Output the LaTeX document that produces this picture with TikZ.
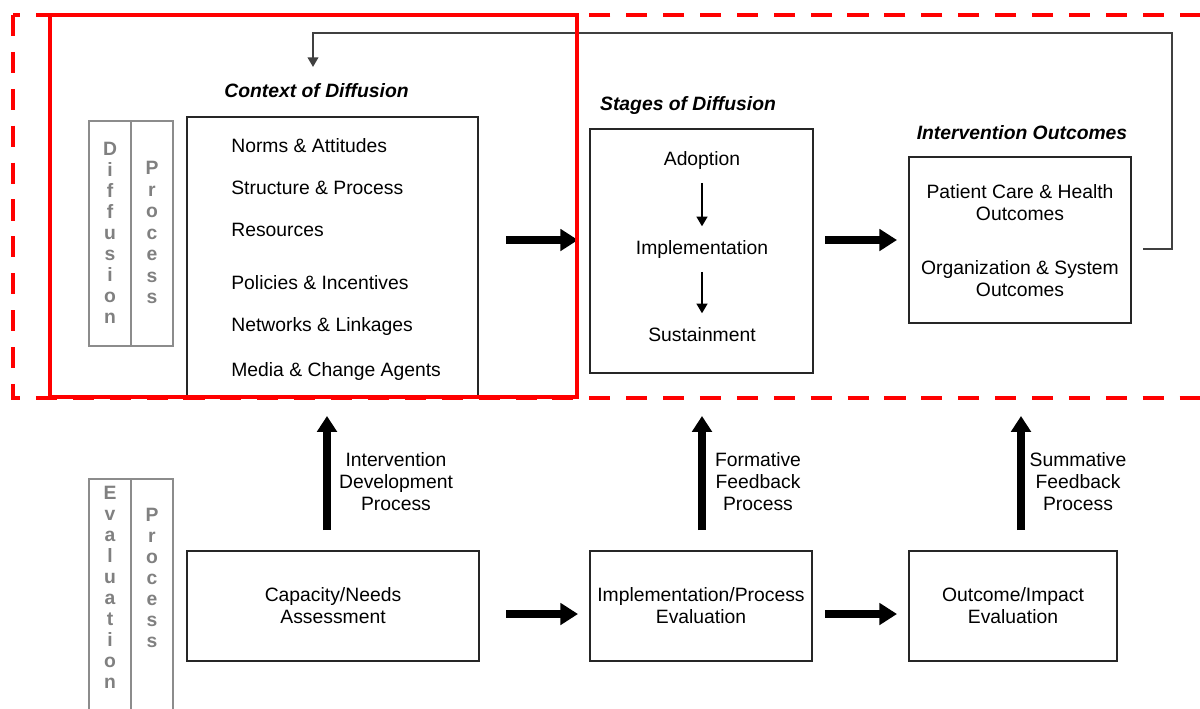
\documentclass[tikz,border=0pt]{standalone}
\usepackage{fontspec}
\setmainfont{Liberation Sans}
\usetikzlibrary{arrows.meta}

\begin{document}
\begin{tikzpicture}[x=0.02cm, y=-0.02cm,
	font=\fontsize{11pt}{12.5pt}\selectfont,
	box/.style={draw=black!85, line width=1pt, inner sep=0pt},
	sidebox/.style={draw=black!45, line width=0.7pt, minimum width=0.84cm},
	letter/.style={text=black!50, font=\fontsize{11pt}{12.5pt}\selectfont\bfseries, inner sep=0pt, text height=8pt, text depth=0pt},
	heading/.style={font=\fontsize{11pt}{12.5pt}\selectfont\bfseries\itshape, inner sep=0pt},
	entry/.style={anchor=west, inner sep=0pt, text height=8pt, text depth=2.5pt},
	stage/.style={inner sep=0pt, text height=8pt, text depth=2.5pt},
	proclabel/.style={align=center, inner sep=0pt},
	bigarrow/.style={line width=5pt, -{Triangle[length=10pt,width=12pt]}},
	uparrow/.style={line width=4pt, -{Triangle[length=9pt,width=11pt]}},
	smallarrow/.style={line width=1.5pt, -{Triangle[length=5.5pt,width=6pt]}},
	fbarrow/.style={draw=black!75, line width=1.2pt, -{Triangle[length=5.5pt,width=6pt]}},
	redline/.style={draw=red, line width=2.3pt}]
	\useasboundingbox (0, 0) rectangle (1200, 708);

	\node[box, minimum width=5.82cm, minimum height=5.6cm] (context) at (332.5, 257) {};
	\node[box, minimum width=4.46cm, minimum height=4.88cm] (stages) at (701.5, 251) {};
	\node[box, minimum width=4.44cm, minimum height=3.32cm] (outcomes) at (1020, 240) {};
	\node[box, minimum width=5.84cm, minimum height=2.2cm, align=center] (capacity) at (333, 606) {Capacity/Needs\\Assessment};
	\node[box, minimum width=4.44cm, minimum height=2.2cm, align=center] (impleval) at (701, 606) {Implementation/Process\\Evaluation};
	\node[box, minimum width=4.16cm, minimum height=2.2cm, align=center] (outeval) at (1013, 606) {Outcome/Impact\\Evaluation};

	\node[sidebox, minimum height=4.5cm] (diffcol) at (110, 233.5) {};
	\node[sidebox, minimum height=4.5cm] (dproccol) at (152, 233.5) {};
	\node[sidebox, minimum height=5.2cm] (evalcol) at (110, 609) {};
	\node[sidebox, minimum height=5.2cm] (eproccol) at (152, 609) {};
	\foreach \ch [count=\i] in {D,i,f,f,u,s,i,o,n}
		\node[letter] (dl\i) at (110, 127+21*\i) {\ch};
	\foreach \ch [count=\i] in {P,r,o,c,e,s,s}
		\node[letter] (dp\i) at (152, 146+21.5*\i) {\ch};
	\foreach \ch [count=\i] in {E,v,a,l,u,a,t,i,o,n}
		\node[letter] (el\i) at (110, 471+21*\i) {\ch};
	\foreach \ch [count=\i] in {P,r,o,c,e,s,s}
		\node[letter] (ep\i) at (152, 493+21*\i) {\ch};

	\node[heading] (ctxtitle) at (316.5, 91) {Context of Diffusion};
	\node[heading] (stagetitle) at (688, 105) {Stages of Diffusion};
	\node[heading] (outtitle) at (1022, 133) {Intervention Outcomes};

	\node[entry] (norms) at (231, 148) {Norms \& Attitudes};
	\node[entry] (structure) at (231, 190) {Structure \& Process};
	\node[entry] (resources) at (231, 232) {Resources};
	\node[entry] (policies) at (231, 285) {Policies \& Incentives};
	\node[entry] (networks) at (231, 327) {Networks \& Linkages};
	\node[entry] (media) at (231, 372) {Media \& Change Agents};

	\node[stage] (adoption) at (702, 161) {Adoption};
	\node[stage] (implementation) at (702, 250) {Implementation};
	\node[stage] (sustainment) at (702, 337) {Sustainment};

	\node[proclabel] (patient) at (1020, 202.5) {Patient Care \& Health\\Outcomes};
	\node[proclabel] (organization) at (1020, 278.5) {Organization \& System\\Outcomes};

	\node[proclabel] (devlabel) at (396, 482) {Intervention\\Development\\Process};
	\node[proclabel] (formlabel) at (758, 482) {Formative\\Feedback\\Process};
	\node[proclabel] (summlabel) at (1078, 482) {Summative\\Feedback\\Process};

	\coordinate (ctxout) at (506, 240);
	\coordinate (stagein) at (578, 240);
	\coordinate (stageout) at (825, 240);
	\coordinate (outin) at (897, 240);
	\coordinate (capout) at (506, 614);
	\coordinate (implin) at (578, 614);
	\coordinate (implout) at (825, 614);
	\coordinate (evalin) at (897, 614);
	\coordinate (devfoot) at (327, 530);
	\coordinate (devhead) at (327, 416);
	\coordinate (formfoot) at (702, 530);
	\coordinate (formhead) at (702, 416);
	\coordinate (summfoot) at (1021, 530);
	\coordinate (summhead) at (1021, 416);
	\coordinate (fbstart) at (1143, 249);
	\coordinate (fbturn) at (1172, 33);
	\coordinate (fbend) at (313, 67);

	\path[bigarrow] (ctxout) edge (stagein);
	\path[bigarrow] (stageout) edge (outin);
	\path[bigarrow] (capout) edge (implin);
	\path[bigarrow] (implout) edge (evalin);
	\path[uparrow] (devfoot) edge (devhead);
	\path[uparrow] (formfoot) edge (formhead);
	\path[uparrow] (summfoot) edge (summhead);
	\path[smallarrow, shorten <=7pt, shorten >=8pt] (adoption) edge (implementation);
	\path[smallarrow, shorten <=7pt, shorten >=8pt] (implementation) edge (sustainment);
	\draw[fbarrow] (fbstart) -| (fbturn) -| (fbend);

	\draw[redline, dash pattern=on 12pt off 9pt] (13, 15) rectangle (1220, 398);
	\draw[redline] (50, 15) rectangle (577, 397);
\end{tikzpicture}
\end{document}
